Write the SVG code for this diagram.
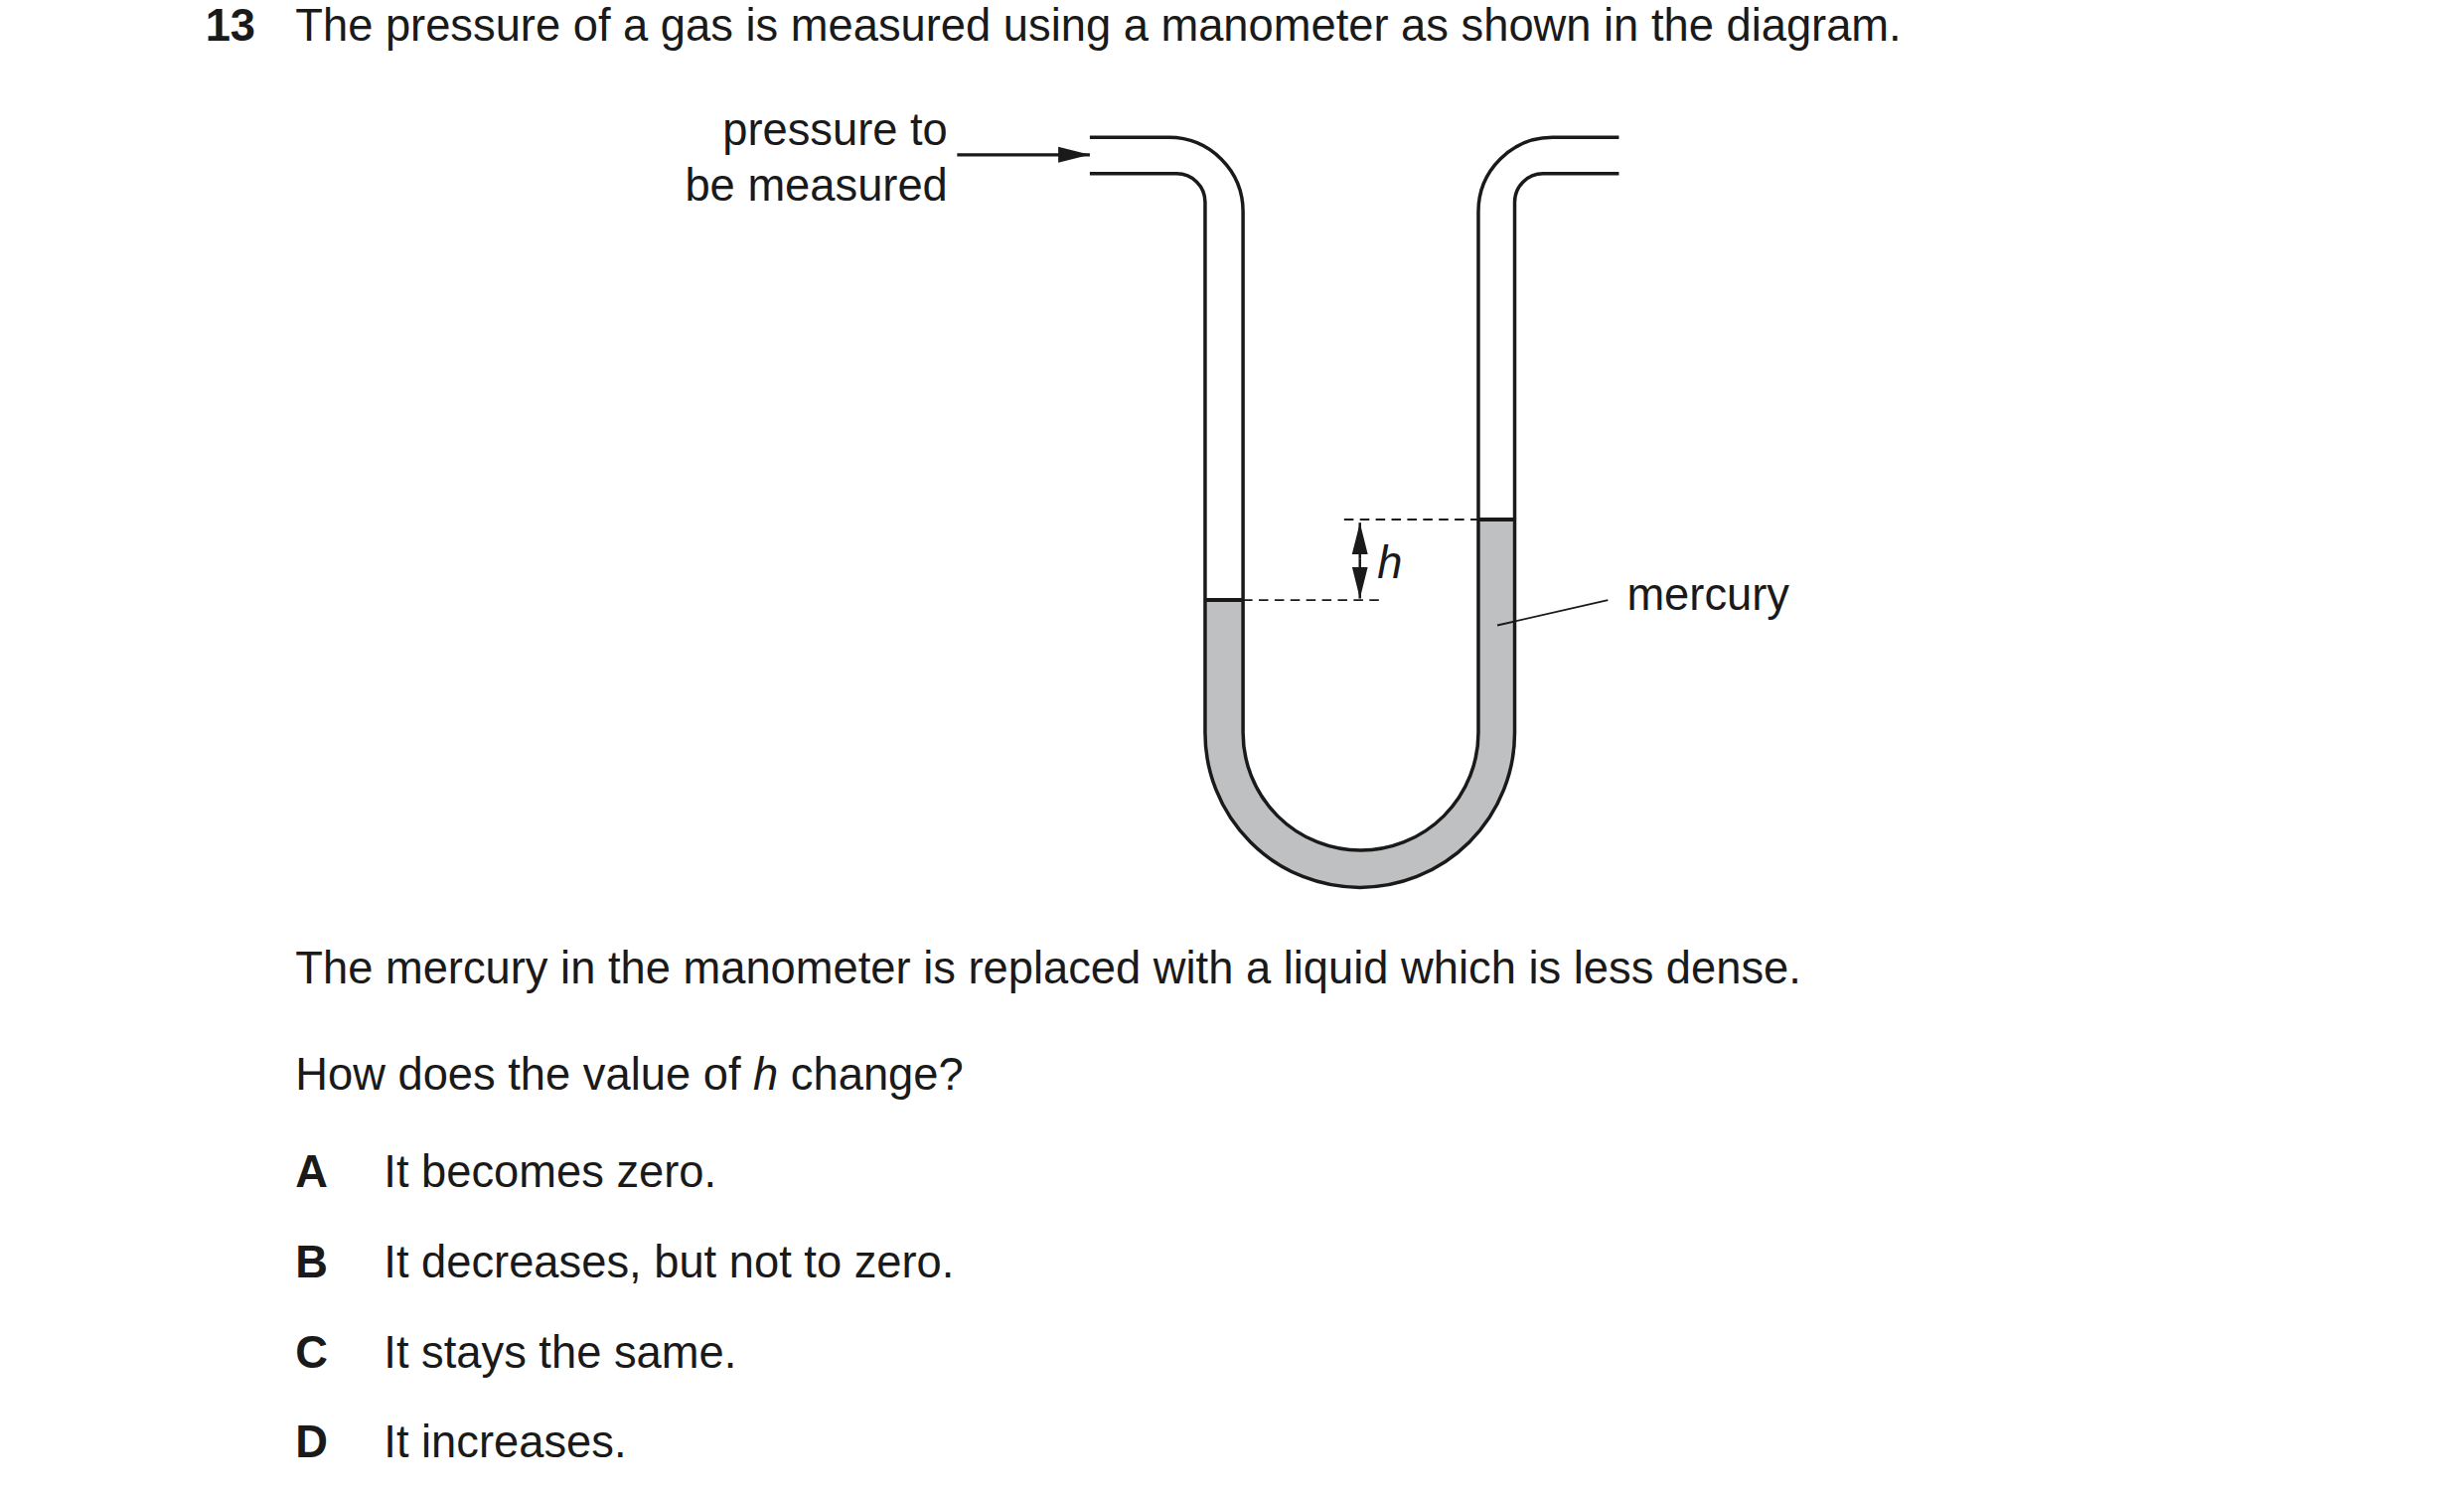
<svg xmlns="http://www.w3.org/2000/svg" width="2480" height="1501" viewBox="0 0 2480 1501">
<style>
text{font-family:"Liberation Sans",Arial,sans-serif;font-size:28.5px;fill:#1a1a1a}
.b{font-weight:bold}
.w{fill:none;stroke:#1a1a1a;stroke-width:2.2}
.d{fill:none;stroke:#1a1a1a;stroke-width:1.2;stroke-dasharray:6,4}
</style>
<defs>
<marker id="ah2" viewBox="0 0 10 10" refX="10" refY="5" markerWidth="20" markerHeight="20" markerUnits="userSpaceOnUse" orient="auto"><path d="M0,2.5 L10,5 L0,7.5 Z" fill="#1a1a1a"/></marker>
</defs>
<rect width="2480" height="1501" fill="#fff"/>
<g transform="scale(1.5897)">
<text x="130" y="26" class="b">13</text>
<text x="187" y="26">The pressure of a gas is measured using a manometer as shown in the diagram.</text>
<g id="manometer">
<path d="M763,380 L763,464 A98,98 0 0 0 959,464 L959,329 L936,329 L936,464 A74.5,74.5 0 0 1 787,464 L787,380 Z" fill="#bfc0c2"/>
<path class="w" d="M690,87 H740 A47,47 0 0 1 787,134 V464 A74.5,74.5 0 0 0 936,464 V134 A47,47 0 0 1 983,87 H1025"/>
<path class="w" d="M690,110 H745 A18,18 0 0 1 763,128 V464 A98,98 0 0 0 959,464 V128 A18,18 0 0 1 977,110 H1025"/>
<line x1="763" y1="380" x2="787" y2="380" stroke="#1a1a1a" stroke-width="2.5"/>
<line x1="936" y1="329" x2="959" y2="329" stroke="#1a1a1a" stroke-width="2.5"/>
</g>
<g id="labels">
<text x="600" y="92" text-anchor="end">pressure to</text>
<text x="600" y="127" text-anchor="end">be measured</text>
<text x="872" y="366" font-style="italic">h</text>
<text x="1030" y="386">mercury</text>
</g>
<g id="connectors">
<line x1="606" y1="98" x2="690" y2="98" stroke="#1a1a1a" stroke-width="2" marker-end="url(#ah2)"/>
<line class="d" x1="851" y1="329" x2="936" y2="329"/>
<line class="d" x1="787" y1="380" x2="875" y2="380"/>
<line x1="861" y1="354" x2="861" y2="331" stroke="#1a1a1a" stroke-width="1.6" marker-end="url(#ah2)"/>
<line x1="861" y1="354" x2="861" y2="379" stroke="#1a1a1a" stroke-width="1.6" marker-end="url(#ah2)"/>
<line x1="948" y1="396" x2="1018" y2="380" stroke="#1a1a1a" stroke-width="1.2"/>
</g>
<text x="187" y="623">The mercury in the manometer is replaced with a liquid which is less dense.</text>
<text x="187" y="690">How does the value of <tspan font-style="italic">h</tspan> change?</text>
<text x="187" y="752" class="b">A</text><text x="243" y="752">It becomes zero.</text>
<text x="187" y="809" class="b">B</text><text x="243" y="809">It decreases, but not to zero.</text>
<text x="187" y="866" class="b">C</text><text x="243" y="866">It stays the same.</text>
<text x="187" y="923" class="b">D</text><text x="243" y="923">It increases.</text>
</g>
</svg>
